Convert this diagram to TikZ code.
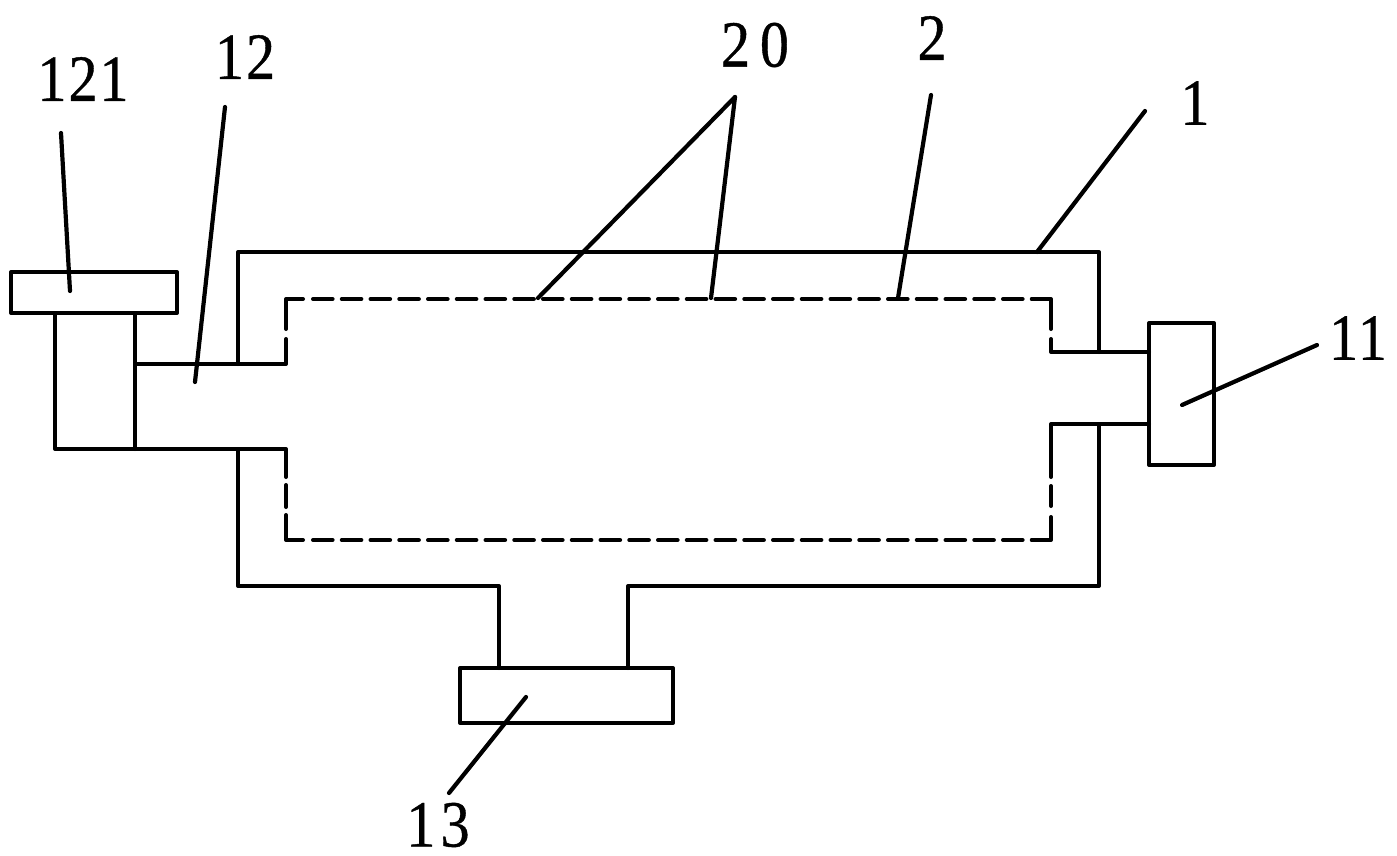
\documentclass[tikz,border=0pt]{standalone}
\usepackage{fontspec}
\setmainfont{Liberation Serif}
\newfontfamily\lblfont[LetterSpace=3,FakeStretch=0.88,FakeBold=0.6]{Liberation Serif}
\newfontfamily\lblmid[LetterSpace=8,FakeStretch=0.88,FakeBold=0.6]{Liberation Serif}
\newfontfamily\lblwide[LetterSpace=15,FakeStretch=0.88,FakeBold=0.6]{Liberation Serif}
\begin{document}
\begin{tikzpicture}[x=1pt,y=-1pt,
  wall/.style={draw=black,line width=4pt,line join=round,line cap=round},
  leader/.style={draw=black,line width=4.2pt,line cap=round},
  dashwall/.style={wall,dash pattern=on 19.6pt off 9.15pt},
  lbl/.style={inner sep=0pt,font=\lblfont\fontsize{66}{66}\selectfont},
  lblm/.style={inner sep=0pt,font=\lblmid\fontsize{66}{66}\selectfont},
  lblw/.style={inner sep=0pt,font=\lblwide\fontsize{66}{66}\selectfont}]
\useasboundingbox (0,0) rectangle (1397,855);
\fill[white] (0,0) rectangle (1397,855);
% boxes
\draw[wall] (11,272) rectangle (177,313);
\draw[wall] (1149,323) rectangle (1214,465);
\draw[wall] (460,668) rectangle (673,723);
% left stem
\draw[wall] (55,313) -- (55,449) -- (286,449) -- (286,477);
\draw[wall] (135,313) -- (135,449);
\draw[wall] (135,364) -- (286,364) -- (286,339);
% outer shell
\draw[wall] (238,364) -- (238,252) -- (1099,252) -- (1099,352);
\draw[wall] (238,449) -- (238,586) -- (499,586) -- (499,668);
\draw[wall] (628,668) -- (628,586) -- (1099,586) -- (1099,424);
% right pipe
\draw[wall] (1149,352) -- (1051,352) -- (1051,339);
\draw[wall] (1149,424) -- (1051,424) -- (1051,477);
% inner dashed liner
\draw[wall] (286,329) -- (286,299) -- (303,299);
\draw[dashwall] (313,299) -- (1032,299);
\draw[wall] (1032,299) -- (1051,299) -- (1051,329);
\draw[wall] (286,515) -- (286,540) -- (303,540);
\draw[dashwall] (313,540) -- (1032,540);
\draw[wall] (1032,540) -- (1051,540) -- (1051,517);
\draw[wall] (286,485) -- (286,507);
\draw[wall] (1051,486) -- (1051,506);
% labels
\node[lbl] (l121) at (83,79) {121};
\node[lbl] (l12) at (245,57) {12};
\node[lblw] (l20) at (755,45) {20};
\node[lbl] (l2) at (932,38) {2};
\node[lbl] (l1) at (1195,103) {1};
\node[lbl] (l11) at (1358,338) {11};
\node[lblm] (l13) at (438,825) {13};
% leader ends
\coordinate (a121) at (61,133);
\coordinate (b121) at (70,291);
\coordinate (a12) at (225,107);
\coordinate (b12) at (195,382);
\coordinate (a20) at (735,97);
\coordinate (b20) at (538,298);
\coordinate (c20) at (711,298);
\coordinate (a2) at (931,95);
\coordinate (b2) at (898,298);
\coordinate (a1) at (1145,111);
\coordinate (b1) at (1037,252);
\coordinate (a11) at (1317,345);
\coordinate (b11) at (1182,405);
\coordinate (a13) at (526,697);
\coordinate (b13) at (449,793);
\draw[leader] (a121) -- (b121);
\draw[leader] (a12) -- (b12);
\draw[leader] (a20) -- (b20);
\draw[leader] (a20) -- (c20);
\draw[leader] (a2) -- (b2);
\draw[leader] (a1) -- (b1);
\draw[leader] (a11) -- (b11);
\draw[leader] (a13) -- (b13);
\end{tikzpicture}
\end{document}
